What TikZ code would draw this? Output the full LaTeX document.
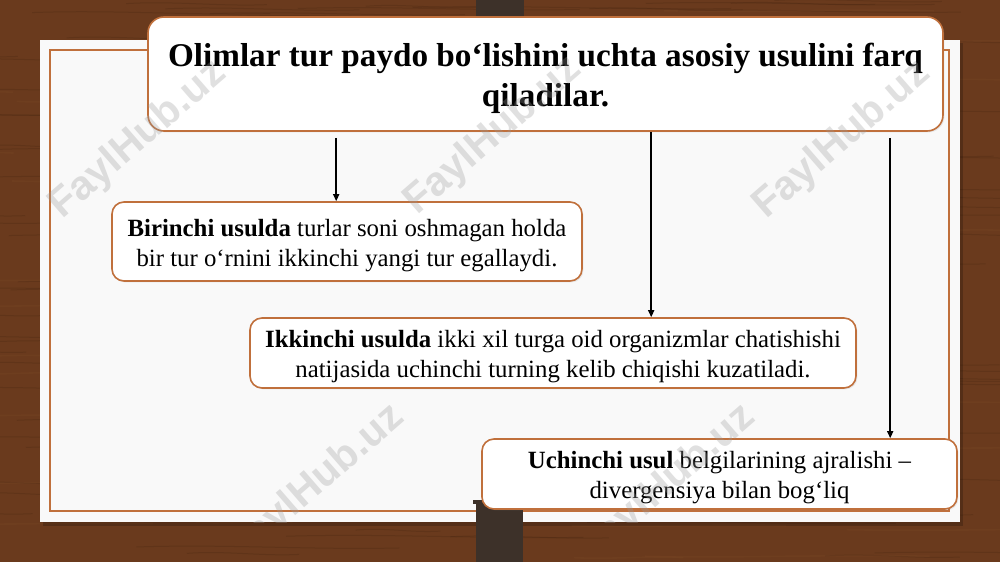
\documentclass[tikz,border=0pt]{standalone}
\usepackage{fontspec}
\setmainfont{Liberation Serif}
\newfontfamily\wmfont{Liberation Sans}
\usetikzlibrary{arrows.meta,shadows}
\definecolor{woodbase}{HTML}{6A3A1D}
\definecolor{wooddark}{HTML}{3A1E0D}
\definecolor{woodlight}{HTML}{8A5530}
\definecolor{clipdark}{HTML}{3D3129}
\definecolor{edgebrown}{HTML}{C0703C}
\definecolor{panelwhite}{HTML}{F9F9F9}
\tikzset{
  textbox/.style={draw=edgebrown, line width=0.8pt, fill=white, rounded corners=6pt,
    inner sep=0pt, align=center, font=\fontsize{12.4pt}{15pt}\selectfont,
    drop shadow={opacity=0.15, shadow xshift=0.7pt, shadow yshift=-0.7pt}},
  titlebox/.style={textbox, rounded corners=8pt, font=\fontsize{16.6pt}{20pt}\selectfont\bfseries},
  arr/.style={draw=black, line width=0.75pt, -{Triangle[length=3.5pt,width=3pt]}},
  wm/.style={font=\wmfont\bfseries\fontsize{20.5pt}{20.5pt}\selectfont, text=black!40, text opacity=0.3, rotate=41, inner sep=0pt}
}
\begin{document}
\begin{tikzpicture}[x=0.5pt,y=-0.5pt]
\useasboundingbox (0,0) rectangle (1000,562);
% wood background
\fill[woodbase] (0,0) rectangle (1000,562);
\pgfmathsetseed{11}
\foreach \i in {1,...,170}{
  \pgfmathsetmacro\yy{rnd*562}
  \pgfmathsetmacro\xx{rnd*1000-100}
  \pgfmathsetmacro\ll{80+rnd*260}
  \draw[wooddark, opacity=0.2, line width=0.5pt]
    (\xx,\yy) .. controls (\xx+\ll/3,\yy-3) and (\xx+2*\ll/3,\yy+3) .. (\xx+\ll,\yy+1);
}
\foreach \i in {1,...,70}{
  \pgfmathsetmacro\yy{rnd*562}
  \pgfmathsetmacro\xx{rnd*1000-100}
  \pgfmathsetmacro\ll{80+rnd*240}
  \draw[woodlight, opacity=0.15, line width=0.8pt]
    (\xx,\yy) .. controls (\xx+\ll/3,\yy+2) and (\xx+2*\ll/3,\yy-2) .. (\xx+\ll,\yy);
}
% top clip strip
\fill[clipdark] (476,0) rectangle (524,30);
% panel
\fill[black, opacity=0.2] (43,43) rectangle (963,526);
\fill[panelwhite] (40,40) rectangle (960,522);
\draw[edgebrown, line width=0.6pt] (50,50) rectangle (949,511);
% bottom clip strip
\fill[clipdark] (476,500) rectangle (523,562);
\fill[clipdark] (473,500) rectangle (478,504);
% title
\node[titlebox, minimum width=397.5pt, minimum height=57pt] (title) at (545.5,74)
  {\rule{0pt}{16.5pt}Olimlar tur paydo bo‘lishini uchta asosiy usulini farq\\ qiladilar.};
% boxes
\node[textbox, minimum width=235pt, minimum height=39.5pt] (b1) at (347,241.5)
  {\rule{0pt}{13pt}\textbf{Birinchi usulda} turlar soni oshmagan holda\\ bir tur o‘rnini ikkinchi yangi tur egallaydi.};
\node[textbox, minimum width=303pt, minimum height=35pt] (b2) at (553,353)
  {\rule{0pt}{12.6pt}\textbf{Ikkinchi usulda} ikki xil turga oid organizmlar chatishishi\\ natijasida uchinchi turning kelib chiqishi kuzatiladi.};
\node[textbox, minimum width=237.5pt, minimum height=35pt] (b3) at (719.5,474)
  {\rule{0pt}{11.7pt}\textbf{Uchinchi usul} belgilarining ajralishi –\\ divergensiya bilan bog‘liq};
% connectors
\draw[arr] ([shift={(189,6)}]title.south west) coordinate (s1) -- (s1 |- b1.north);
\draw[arr] ([shift={(504,0)}]title.south west) coordinate (s2) -- (s2 |- b2.north);
\draw[arr] ([shift={(743,6)}]title.south west) coordinate (s3) -- (s3 |- b3.north);
% watermarks
\begin{scope}
\clip (40,40) rectangle (960,522);
\node[wm] (w1) at (138,140) {FaylHub.uz};
\node[wm] (w2) at (493,136) {FaylHub.uz};
\node[wm] (w3) at (842,140) {FaylHub.uz};
\node[wm] (w5) at (316,484) {FaylHub.uz};
\node[wm] (w6) at (667,484) {FaylHub.uz};
\end{scope}
\end{tikzpicture}
\end{document}
